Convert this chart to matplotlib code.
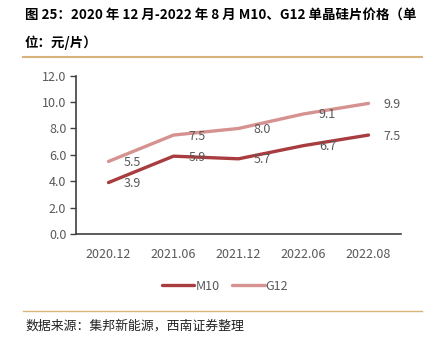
import matplotlib.pyplot as plt
from matplotlib.lines import Line2D

plt.rcParams['font.family'] = ['Noto Sans CJK SC', 'DejaVu Sans']

dates = ['2020.12', '2021.06', '2021.12', '2022.06', '2022.08']
m10 = [3.9, 5.9, 5.7, 6.7, 7.5]
g12 = [5.5, 7.5, 8.0, 9.1, 9.9]

c_m10 = '#A83C3E'
c_g12 = '#D69290'
c_txt = '#595959'
c_rule = '#D9B47A'

fig = plt.figure(figsize=(4.29, 3.45), dpi=100)
W, H = 429.0, 345.0

# title (two lines)
fig.text(25 / W, 1 - 16 / H, '图 25：2020 年 12 月-2022 年 8 月 M10、G12 单晶硅片价格（单',
         fontsize=9.7, fontweight='bold', va='center', ha='left', color='black')
fig.text(25 / W, 1 - 43 / H, '位：元/片）', fontsize=9.7, fontweight='bold',
         va='center', ha='left', color='black')

# tan rules
fig.add_artist(Line2D([23 / W, 422 / W], [1 - 57 / H, 1 - 57 / H], color=c_rule, lw=1.5))
fig.add_artist(Line2D([23 / W, 422 / W], [1 - 311 / H, 1 - 311 / H], color=c_rule, lw=1.0))

fig.text(25 / W, 1 - 326 / H, '数据来源：集邦新能源，西南证券整理', fontsize=9.3,
         style='italic', va='center', ha='left', color='#222222')

ax = fig.add_axes([76 / W, 1 - 234 / H, 325 / W, (234 - 75.7) / H])
x = range(len(dates))
ax.plot(x, m10, color=c_m10, lw=2.4, label='M10', solid_capstyle='round')
ax.plot(x, g12, color=c_g12, lw=2.4, label='G12', solid_capstyle='round')

for xi, v in zip(x, m10):
    ax.annotate('%.1f' % v, (xi, v), xytext=(24, -1), textcoords='offset pixels',
                ha='center', va='center', fontsize=9, color=c_txt)
for xi, v in zip(x, g12):
    ax.annotate('%.1f' % v, (xi, v), xytext=(24, -1), textcoords='offset pixels',
                ha='center', va='center', fontsize=9, color=c_txt)

ax.set_xlim(-0.5, 4.5)
ax.set_ylim(0, 12)
ax.set_yticks([0, 2, 4, 6, 8, 10, 12])
ax.set_yticklabels(['%.1f' % t for t in [0, 2, 4, 6, 8, 10, 12]])
ax.set_xticks(list(x))
ax.set_xticklabels(dates)
ax.tick_params(axis='y', colors=c_txt, labelsize=9, length=4, width=1, direction='out', pad=3)
ax.tick_params(axis='x', colors=c_txt, labelsize=9, length=0, pad=10)
ax.tick_params(axis='y', color='#404040')
for s in ['top', 'right']:
    ax.spines[s].set_visible(False)
ax.spines['left'].set_color('#404040')
ax.spines['bottom'].set_color('#404040')
ax.spines['left'].set_linewidth(1.2)
ax.spines['bottom'].set_linewidth(1.2)

ax.legend(loc='center', bbox_to_anchor=(225 / W, 1 - 286 / H), bbox_transform=fig.transFigure,
          ncol=2, frameon=False, fontsize=9, handlelength=2.6, handletextpad=0.1,
          columnspacing=1.0, labelcolor=c_txt)

fig.savefig('out.png', dpi=100)
